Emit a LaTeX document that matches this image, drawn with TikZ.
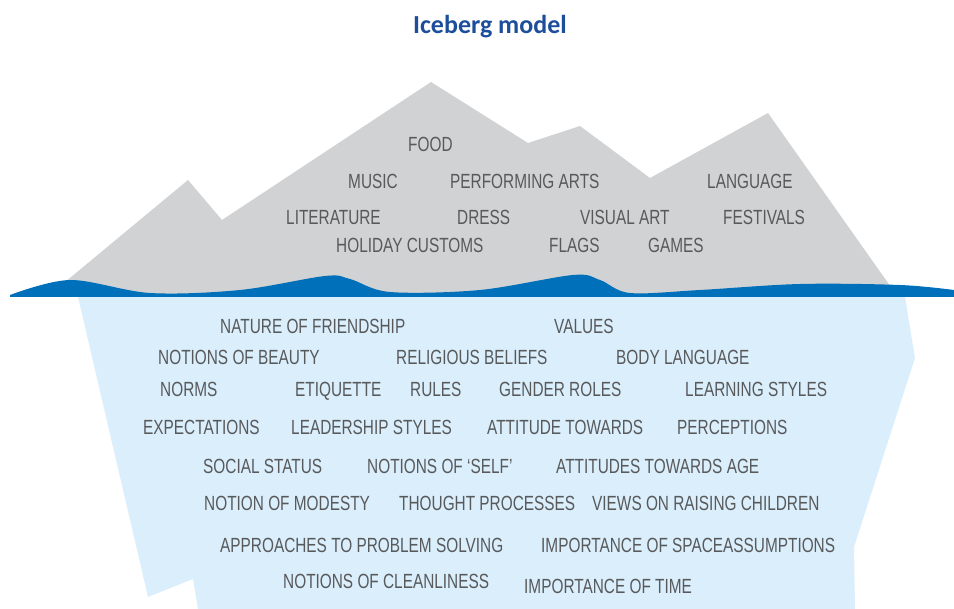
\documentclass[tikz,border=0pt]{standalone}
\usepackage{fontspec}
\setmainfont{Liberation Sans}
\newfontfamily\condfont[FakeStretch=0.75]{Liberation Sans}
\newfontfamily\titlefont{Carlito}
\definecolor{iceGray}{HTML}{D1D2D4}
\definecolor{iceBlue}{HTML}{DAEEFB}
\definecolor{seaBlue}{HTML}{0070BA}
\definecolor{txtGray}{HTML}{58595B}
\definecolor{titleBlue}{HTML}{1C4E9C}
\begin{document}
\begin{tikzpicture}[x=1pt,y=-1pt,
  lbl/.style={anchor=base west,inner sep=0pt,text=txtGray,font=\condfont\fontsize{20.5}{22}\selectfont}]
\useasboundingbox (0,0) rectangle (954,609);
% underwater part of the iceberg
\fill[iceBlue] (78,297) -- (905,297) -- (915,358) -- (854,547) -- (855,609)
  -- (198,609) -- (193,579) -- (148,597) -- cycle;
% visible part above the waterline
\fill[iceGray] (47,297) -- (188,180) -- (222,220) -- (431,82) -- (528,143)
  -- (580,126) -- (650,178) -- (768,113) -- (893,290) -- (897,297) -- cycle;
% water surface with waves
\fill[seaBlue] plot[smooth,tension=0.55] coordinates {(10,295) (70,280) (150,293)
  (240,290) (325,276) (350,279) (390,292) (480,290) (573,275) (600,280)
  (630,293) (700,290) (800,284) (900,285) (954,290)} -- (954,297) -- (10,297) -- cycle;
% title
\node[text=titleBlue,font=\titlefont\bfseries\fontsize{26}{28}\selectfont] (title) at (490,27) {Iceberg model};
% visible culture
\node[lbl] (food) at (408,152) {FOOD};
\node[lbl] (music) at (348,189) {MUSIC};
\node[lbl] (arts) at (450,189) {PERFORMING ARTS};
\node[lbl] (lang) at (707,189) {LANGUAGE};
\node[lbl] (lit) at (286,225) {LITERATURE};
\node[lbl] (dress) at (457,225) {DRESS};
\node[lbl] (visual) at (580,225) {VISUAL ART};
\node[lbl] (fest) at (723,225) {FESTIVALS};
\node[lbl] (holiday) at (336,253) {HOLIDAY CUSTOMS};
\node[lbl] (flags) at (549,253) {FLAGS};
\node[lbl] (games) at (648,253) {GAMES};
% hidden culture
\node[lbl] (friend) at (220,334) {NATURE OF FRIENDSHIP};
\node[lbl] (values) at (554,334) {VALUES};
\node[lbl] (beauty) at (158,365) {NOTIONS OF BEAUTY};
\node[lbl] (relig) at (396,365) {RELIGIOUS BELIEFS};
\node[lbl] (body) at (616,365) {BODY LANGUAGE};
\node[lbl] (norms) at (160,397) {NORMS};
\node[lbl] (etiq) at (295,397) {ETIQUETTE};
\node[lbl] (rules) at (410,397) {RULES};
\node[lbl] (gender) at (499,397) {GENDER ROLES};
\node[lbl] (learn) at (685,397) {LEARNING STYLES};
\node[lbl] (expect) at (143,435) {EXPECTATIONS};
\node[lbl] (lead) at (291,435) {LEADERSHIP STYLES};
\node[lbl] (attit) at (487,435) {ATTITUDE TOWARDS};
\node[lbl] (percep) at (677,435) {PERCEPTIONS};
\node[lbl] (status) at (203,474) {SOCIAL STATUS};
\node[lbl] (self) at (367,474) {NOTIONS OF ‘SELF’};
\node[lbl] (age) at (556,474) {ATTITUDES TOWARDS AGE};
\node[lbl] (modesty) at (204,511) {NOTION OF MODESTY};
\node[lbl] (thought) at (399,511) {THOUGHT PROCESSES};
\node[lbl] (children) at (592,511) {VIEWS ON RAISING CHILDREN};
\node[lbl] (problem) at (220,553) {APPROACHES TO PROBLEM SOLVING};
\node[lbl] (space) at (541,553) {IMPORTANCE OF SPACEASSUMPTIONS};
\node[lbl] (clean) at (283,589) {NOTIONS OF CLEANLINESS};
\node[lbl] (time) at (524,594) {IMPORTANCE OF TIME};
\end{tikzpicture}
\end{document}
